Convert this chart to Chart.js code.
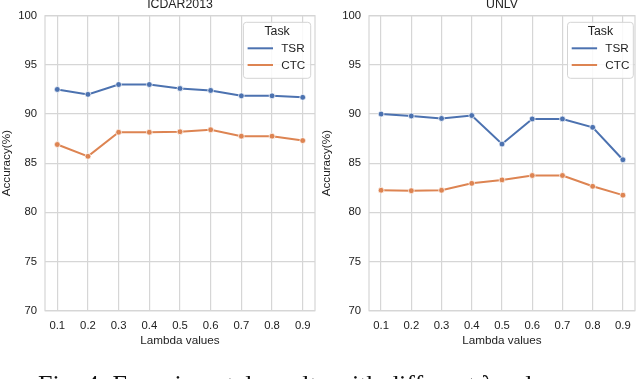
<!DOCTYPE html>
<html>
<head>
<meta charset="utf-8">
<script src="https://cdn.jsdelivr.net/npm/chart.js@4.4.1/dist/chart.umd.min.js"></script>
<style>
  html, body { margin: 0; padding: 0; background: #fff; overflow: hidden; }
  body { width: 640px; height: 379px; position: relative; }
  .panel { position: absolute; top: 0; width: 320px; height: 379px; }
  #caption { position: absolute; left: 38px; top: 372px; text-align: left;
    font-family: "Liberation Serif", "Times New Roman", serif; font-size: 26px; line-height: 26px; color: #111; white-space: nowrap; }
</style>
</head>
<body>
<div class="panel" style="left:0"><canvas id="c1" width="320" height="379"></canvas></div>
<div class="panel" style="left:320px"><canvas id="c2" width="320" height="379"></canvas></div>
<div id="caption">Fig. 4: Experimental results with different λ values</div>
<script>
// ---- data ----
const lambdas = [0.1, 0.2, 0.3, 0.4, 0.5, 0.6, 0.7, 0.8, 0.9];
const yTicks = [70, 75, 80, 85, 90, 95, 100];
const seriesNames = ["TSR", "CTC"];
const panelTitles = ["ICDAR2013", "UNLV"];
const icdarTSR = [92.5, 92.0, 93.0, 93.0, 92.6, 92.4, 91.85, 91.85, 91.7];
const icdarCTC = [86.9, 85.7, 88.15, 88.15, 88.2, 88.4, 87.75, 87.75, 87.3];
const unlvTSR = [90.0, 89.8, 89.55, 89.85, 86.95, 89.5, 89.5, 88.65, 85.35];
const unlvCTC = [82.25, 82.2, 82.25, 82.95, 83.3, 83.75, 83.75, 82.65, 81.75];
const xLabel = "Lambda values";
const yLabel = "Accuracy(%)";
const legendTitle = "Task";

const COLORS = ["#4c72b0", "#dd8452"];
const TEXT = "#222222";
const GRID = "#d6d6d6";
const FONT = '"Liberation Sans", Arial, Helvetica, sans-serif';

function pts(vals) { return lambdas.map((x, i) => ({ x: x, y: vals[i] })); }

const decor = {
  id: 'decor',
  beforeDatasetsDraw(chart, args, opts) {
    const a = chart.chartArea, ctx = chart.ctx;
    ctx.save();
    ctx.strokeStyle = GRID; ctx.lineWidth = 1.2;
    ctx.strokeRect(a.left, a.top, a.right - a.left, a.bottom - a.top);
    ctx.restore();
  },
  afterDraw(chart, args, opts) {
    const a = chart.chartArea, ctx = chart.ctx;
    ctx.save();
    // panel title
    ctx.fillStyle = TEXT;
    ctx.font = '12.3px ' + FONT;
    ctx.textAlign = 'center'; ctx.textBaseline = 'alphabetic';
    ctx.fillText(opts.title, (a.left + a.right) / 2, 8.3);
    // legend box
    const w = opts.legW, h = 56;
    const x0 = a.right - opts.legInset - w, y0 = a.top + 6.6;
    const r = 3;
    ctx.beginPath();
    ctx.moveTo(x0 + r, y0); ctx.lineTo(x0 + w - r, y0); ctx.arcTo(x0 + w, y0, x0 + w, y0 + r, r);
    ctx.lineTo(x0 + w, y0 + h - r); ctx.arcTo(x0 + w, y0 + h, x0 + w - r, y0 + h, r);
    ctx.lineTo(x0 + r, y0 + h); ctx.arcTo(x0, y0 + h, x0, y0 + h - r, r);
    ctx.lineTo(x0, y0 + r); ctx.arcTo(x0, y0, x0 + r, y0, r); ctx.closePath();
    ctx.fillStyle = 'rgba(255,255,255,0.85)'; ctx.fill();
    ctx.strokeStyle = '#d4d4d4'; ctx.lineWidth = 1; ctx.stroke();
    ctx.fillStyle = TEXT;
    ctx.font = '12.3px ' + FONT;
    ctx.textAlign = 'center'; ctx.textBaseline = 'middle';
    ctx.fillText(legendTitle, x0 + w / 2, y0 + 9);
    ctx.font = '11.7px ' + FONT; ctx.textAlign = 'left';
    chart.data.datasets.forEach((ds, i) => {
      const yy = y0 + 26 + i * 16.7;
      ctx.strokeStyle = ds.borderColor; ctx.lineWidth = 2;
      ctx.beginPath(); ctx.moveTo(x0 + 4.2, yy); ctx.lineTo(x0 + 29.6, yy); ctx.stroke();
      ctx.fillStyle = TEXT;
      ctx.fillText(ds.label, x0 + 37.8, yy + 0.5);
    });
    ctx.restore();
  }
};

function makeChart(id, title, tsr, ctc, yWidth, legInset, legW) {
  return new Chart(document.getElementById(id), {
    type: 'line',
    data: {
      datasets: [tsr, ctc].map((vals, i) => ({
        label: seriesNames[i],
        data: pts(vals),
        borderColor: COLORS[i],
        backgroundColor: COLORS[i],
        borderWidth: 2,
        pointRadius: 2.9,
        pointBorderColor: '#ffffff',
        pointBorderWidth: 0.7,
        pointBackgroundColor: COLORS[i],
        tension: 0,
        fill: false
      }))
    },
    options: {
      responsive: false,
      animation: false,
      layout: { padding: { top: 15.7, right: 5, bottom: 30.9, left: 0 } },
      plugins: {
        legend: { display: false },
        tooltip: { enabled: false },
        title: { display: false },
        decor: { title: title, legInset: legInset, legW: legW }
      },
      scales: {
        x: {
          type: 'linear', min: 0.06, max: 0.94,
          afterBuildTicks: s => { s.ticks = lambdas.map(v => ({ value: v })); },
          afterFit: s => { s.height = 37.4; },
          ticks: { color: TEXT, font: { family: FONT, size: 11.3 }, padding: 8,
                   maxRotation: 0, autoSkip: false,
                   callback: v => Number(v).toFixed(1) },
          grid: { color: GRID, lineWidth: 1.2, drawTicks: false },
          border: { display: false },
          title: { display: true, text: xLabel, color: TEXT,
                   font: { family: FONT, size: 11.7 }, padding: 0 }
        },
        y: {
          min: 70, max: 100,
          afterBuildTicks: s => { s.ticks = yTicks.map(v => ({ value: v })); },
          afterFit: s => { s.width = yWidth; },
          ticks: { color: TEXT, font: { family: FONT, size: 11.3 }, padding: 8 },
          grid: { color: GRID, lineWidth: 1.2, drawTicks: false },
          border: { display: false },
          title: { display: true, text: yLabel, color: TEXT,
                   font: { family: FONT, size: 11.7 }, padding: 0 }
        }
      }
    },
    plugins: [decor]
  });
}

makeChart('c1', panelTitles[0], icdarTSR, icdarCTC, 45, 4.3, 67.3);
makeChart('c2', panelTitles[1], unlvTSR, unlvCTC, 49, 1.7, 65.8);
</script>
</body>
</html>
